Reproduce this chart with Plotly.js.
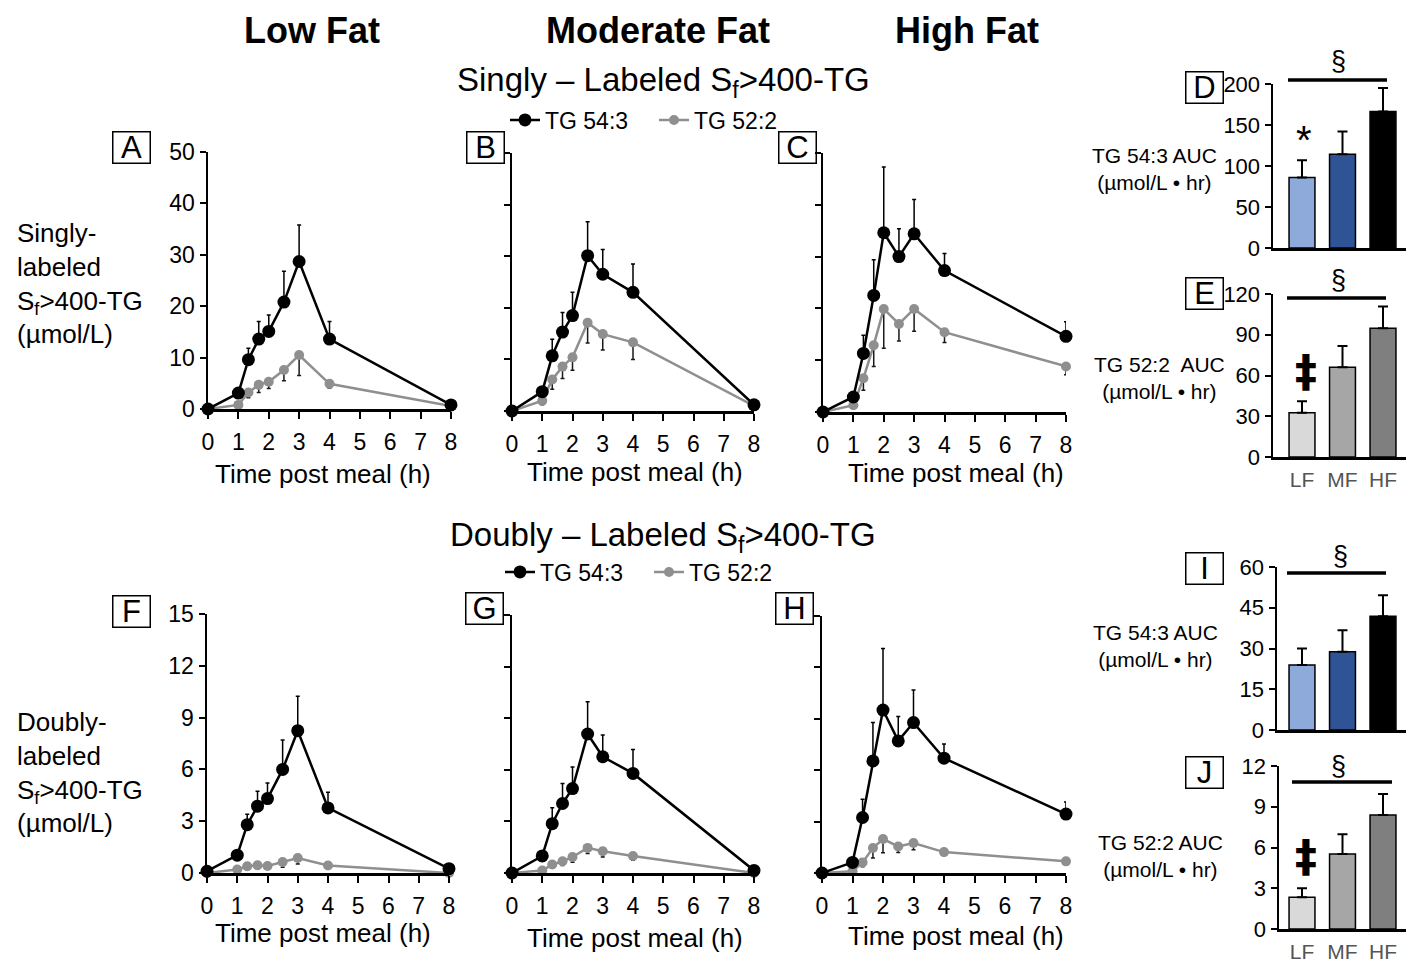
<!DOCTYPE html>
<html><head><meta charset="utf-8">
<script src="https://cdn.plot.ly/plotly-3.0.1.min.js"></script>
<style>html,body{margin:0;padding:0;background:#fff}#chart{width:1406px;height:963px}</style>
</head><body><div id="chart"></div>
<script>
const W = 1406, H = 963;

// ---------- DATA ----------
const timeH = [0, 1, 1.33, 1.67, 2, 2.5, 3, 4, 8];
const timeTicks = [0, 1, 2, 3, 4, 5, 6, 7, 8];
const seriesNames = ['TG 54:3', 'TG 52:2'];

// Singly-labeled Sf>400-TG (µmol/L)
const singlyLF_543 = [0, 3.1, 9.6, 13.6, 15.1, 20.8, 28.7, 13.6, 0.8];
const singlyLF_543_sem = [0, 0, 2.2, 3.4, 3.2, 6.0, 7.1, 3.4, 0];
const singlyLF_522 = [0, 0.8, 3.2, 4.7, 5.3, 7.6, 10.5, 4.9, 0.6];
const singlyLF_522_sem = [0, 0.6, 1.0, 1.5, 1.3, 2.1, 4.0, 0.8, 0];

const singlyMF_543 = [0, 3.75, 10.7, 15.3, 18.5, 30.1, 26.5, 23.0, 1.2];
const singlyMF_543_sem = [0, 0, 3.2, 3.8, 4.5, 6.6, 4.8, 5.5, 0];
const singlyMF_522 = [0, 2.0, 6.1, 8.6, 10.4, 17.1, 14.9, 13.3, 1.0];
const singlyMF_522_sem = [0, 0.8, 1.9, 2.3, 2.5, 3.9, 3.1, 3.3, 0];

const singlyHF_543 = [0, 2.9, 11.3, 22.5, 34.6, 30.0, 34.4, 27.3, 14.6];
const singlyHF_543_sem = [0, 0, 3.5, 6.9, 12.7, 5.4, 6.6, 3.3, 2.8];
const singlyHF_522 = [0, 1.3, 6.5, 12.9, 19.9, 17.0, 19.9, 15.4, 8.8];
const singlyHF_522_sem = [0, 0.5, 2.3, 4.1, 7.6, 3.3, 4.3, 2.0, 1.6];

// Doubly-labeled Sf>400-TG (µmol/L)
const doublyLF_543 = [0.1, 1.03, 2.8, 3.87, 4.31, 6.0, 8.24, 3.77, 0.25];
const doublyLF_543_sem = [0, 0, 0.6, 0.87, 0.9, 1.7, 2.0, 0.9, 0];
const doublyLF_522 = [0, 0.2, 0.39, 0.45, 0.41, 0.64, 0.87, 0.43, 0.0];
const doublyLF_522_sem = [0, 0.1, 0.2, 0.2, 0.2, 0.3, 0.35, 0.2, 0];

const doublyMF_543 = [0, 0.99, 2.87, 4.04, 4.91, 8.08, 6.76, 5.79, 0.15];
const doublyMF_543_sem = [0, 0, 0.93, 1.16, 1.26, 1.88, 1.26, 1.39, 0];
const doublyMF_522 = [0, 0.15, 0.49, 0.68, 0.93, 1.46, 1.26, 0.99, 0.0];
const doublyMF_522_sem = [0, 0.1, 0.2, 0.25, 0.3, 0.33, 0.33, 0.25, 0];

const doublyHF_543 = [0, 0.62, 3.24, 6.54, 9.51, 7.71, 8.78, 6.70, 3.44];
const doublyHF_543_sem = [0, 0, 1.06, 2.24, 3.6, 1.42, 1.9, 0.83, 0.7];
const doublyHF_522 = [0, 0.1, 0.62, 1.46, 1.98, 1.55, 1.75, 1.22, 0.68];
const doublyHF_522_sem = [0, 0.1, 0.25, 0.58, 0.8, 0.35, 0.4, 0.2, 0.1];

// AUC bars (µmol/L • hr)
const dietGroups = ['LF', 'MF', 'HF'];
const aucSingly_543 = [86.1, 114.3, 166.5];
const aucSingly_543_sem = [21, 27.8, 28.6];
const aucSingly_522 = [32.5, 66.0, 94.8];
const aucSingly_522_sem = [8.6, 15.8, 16];
const aucDoubly_543 = [23.9, 28.8, 41.9];
const aucDoubly_543_sem = [6.1, 7.9, 7.7];
const aucDoubly_522 = [2.33, 5.52, 8.39];
const aucDoubly_522_sem = [0.67, 1.45, 1.55];

// ---------- STYLE / LAYOUT HELPERS ----------
const FONT = 'Liberation Sans, Arial, sans-serif';
const px = p => p / W;
const py = p => 1 - p / H;
const zeros = n => new Array(n).fill(0);

const traces = [];
const layout = {
  width: W, height: H,
  margin: {l: 0, r: 0, t: 0, b: 0},
  paper_bgcolor: '#fff', plot_bgcolor: 'rgba(0,0,0,0)',
  font: {family: FONT, color: '#000', size: 22},
  showlegend: true,
  annotations: [], shapes: []
};

function lineAxes(i, xd, yd, yrange, dtick, showY) {
  const xs = i === 1 ? 'xaxis' : 'xaxis' + i;
  const ys = i === 1 ? 'yaxis' : 'yaxis' + i;
  layout[xs] = {
    domain: [px(xd[0]), px(xd[1])], range: [0, 8], tickvals: timeTicks,
    ticks: 'outside', ticklen: 7, tickwidth: 2, tickcolor: '#000',
    showline: true, linewidth: 2.5, linecolor: '#000',
    showgrid: false, zeroline: false, tickfont: {size: 23},
    ticklabelstandoff: 4,
    anchor: i === 1 ? 'y' : 'y' + i, fixedrange: true
  };
  layout[ys] = {
    domain: [py(yd[1]), py(yd[0])], range: yrange, tick0: 0, dtick: dtick,
    ticks: 'outside', ticklen: 6, tickwidth: 2, tickcolor: '#000',
    showline: true, linewidth: 2.5, linecolor: '#000',
    showgrid: false, zeroline: false, showticklabels: showY,
    tickfont: {size: 23},
    anchor: i === 1 ? 'x' : 'x' + i, fixedrange: true
  };
}

function linePanel(i, blackY, blackErr, grayY, grayErr, legendName) {
  const xa = i === 1 ? 'x' : 'x' + i;
  const ya = i === 1 ? 'y' : 'y' + i;
  const show = !!legendName;
  traces.push({
    type: 'scatter', mode: 'lines+markers', x: timeH, y: grayY,
    name: seriesNames[1], xaxis: xa, yaxis: ya, cliponaxis: false,
    line: {color: '#8f8f8f', width: 2.5},
    marker: {color: '#8f8f8f', size: 10},
    error_y: {type: 'data', symmetric: false, array: zeros(grayY.length), arrayminus: grayErr,
              color: '#1a1a1a', thickness: 1.5, width: 2},
    showlegend: show, legend: legendName || 'legend', legendrank: 2
  });
  traces.push({
    type: 'scatter', mode: 'lines+markers', x: timeH, y: blackY,
    name: seriesNames[0], xaxis: xa, yaxis: ya, cliponaxis: false,
    line: {color: '#000', width: 2.5},
    marker: {color: '#000', size: 13},
    error_y: {type: 'data', symmetric: false, array: blackErr, arrayminus: zeros(blackY.length),
              color: '#000', thickness: 1.5, width: 2},
    showlegend: show, legend: legendName || 'legend', legendrank: 1
  });
}

function barPanel(i, xd, yd, xrange, yrange, dtick, vals, errs, colors, showX) {
  const xs = 'xaxis' + i, ys = 'yaxis' + i;
  layout[xs] = {
    domain: [px(xd[0]), px(xd[1])], type: 'category', range: xrange,
    showline: true, linewidth: 2.5, linecolor: '#000', ticks: '',
    showgrid: false, zeroline: false, showticklabels: showX,
    tickfont: {size: 21, color: '#555'}, ticklabelstandoff: 2,
    anchor: 'y' + i, fixedrange: true
  };
  layout[ys] = {
    domain: [py(yd[1]), py(yd[0])], range: yrange, tick0: 0, dtick: dtick,
    ticks: 'outside', ticklen: 6, tickwidth: 2, tickcolor: '#000',
    showline: true, linewidth: 2.5, linecolor: '#000',
    showgrid: false, zeroline: false, tickfont: {size: 22},
    anchor: 'x' + i, fixedrange: true
  };
  traces.push({
    type: 'bar', x: dietGroups, y: vals, xaxis: 'x' + i, yaxis: 'y' + i,
    width: 0.64, showlegend: false, cliponaxis: false,
    marker: {color: colors, line: {color: '#000', width: 1.5}},
    error_y: {type: 'data', symmetric: false, array: errs, arrayminus: zeros(vals.length),
              color: '#000', thickness: 2, width: 5}
  });
}

// ---------- PANELS ----------
lineAxes(1, [208, 451], [152, 409], [0, 50], 10, true);
lineAxes(2, [512, 754], [153, 411], [0, 50], 10, false);
lineAxes(3, [823, 1066], [153, 412], [0, 50], 10, false);
lineAxes(4, [207, 449], [614, 873], [0, 15], 3, true);
lineAxes(5, [512, 754], [615, 873], [0, 15], 3, false);
lineAxes(6, [822, 1066], [616, 873], [0, 15], 3, false);

linePanel(1, singlyLF_543, singlyLF_543_sem, singlyLF_522, singlyLF_522_sem, 'legend');
linePanel(2, singlyMF_543, singlyMF_543_sem, singlyMF_522, singlyMF_522_sem, null);
linePanel(3, singlyHF_543, singlyHF_543_sem, singlyHF_522, singlyHF_522_sem, null);
linePanel(4, doublyLF_543, doublyLF_543_sem, doublyLF_522, doublyLF_522_sem, 'legend2');
linePanel(5, doublyMF_543, doublyMF_543_sem, doublyMF_522, doublyMF_522_sem, null);
linePanel(6, doublyHF_543, doublyHF_543_sem, doublyHF_522, doublyHF_522_sem, null);

const blueSet = ['#8eaadb', '#2f5496', '#000000'];
const graySet = ['#d9d9d9', '#a6a6a6', '#7f7f7f'];
barPanel(7, [1273, 1406], [84, 248], [-0.716, 2.568], [0, 200], 50, aucSingly_543, aucSingly_543_sem, blueSet, false);
barPanel(8, [1273, 1406], [294, 457], [-0.716, 2.568], [0, 120], 30, aucSingly_522, aucSingly_522_sem, graySet, true);
barPanel(9, [1277, 1406], [567, 730], [-0.617, 2.568], [0, 60], 15, aucDoubly_543, aucDoubly_543_sem, blueSet, false);
barPanel(10, [1279, 1406], [766, 929], [-0.568, 2.568], [0, 12], 3, aucDoubly_522, aucDoubly_522_sem, graySet, true);

// ---------- LEGENDS ----------
const legendBase = {
  orientation: 'h', xanchor: 'left', yanchor: 'middle',
  font: {size: 23, family: FONT}, bgcolor: 'rgba(0,0,0,0)',
  itemwidth: 30, entrywidth: 104, entrywidthmode: 'pixels',
  traceorder: 'normal', itemclick: false, itemdoubleclick: false
};
layout.legend = Object.assign({}, legendBase, {x: px(505), y: py(120)});
layout.legend2 = Object.assign({}, legendBase, {x: px(500), y: py(572)});

// ---------- TEXT ----------
const A = layout.annotations;
function txt(x, y, text, size, opts) {
  A.push(Object.assign({xref: 'paper', yref: 'paper', x: px(x), y: py(y), text: text,
    showarrow: false, xanchor: 'center', yanchor: 'middle',
    font: {size: size, family: FONT, color: '#000'}}, opts || {}));
}
// column headers
txt(312, 30, '<b>Low Fat</b>', 36);
txt(658, 30, '<b>Moderate Fat</b>', 36);
txt(967, 30, '<b>High Fat</b>', 36);
// section titles
txt(663, 82, 'Singly – Labeled S<sub>f</sub>&gt;400-TG', 33);
txt(663, 537, 'Doubly – Labeled S<sub>f</sub>&gt;400-TG', 33);
// row axis titles
txt(15, 284, 'Singly-<br>labeled<br>S<sub>f</sub>&gt;400-TG<br>(µmol/L)', 26, {xanchor: 'left', align: 'left'});
txt(15, 772, 'Doubly-<br>labeled<br>S<sub>f</sub>&gt;400-TG<br>(µmol/L)', 26, {xanchor: 'left', align: 'left'});
// x axis titles
txt(323, 474, 'Time post meal (h)', 26);
txt(635, 472, 'Time post meal (h)', 26);
txt(956, 473, 'Time post meal (h)', 26);
txt(323, 933, 'Time post meal (h)', 26);
txt(635, 938, 'Time post meal (h)', 26);
txt(956, 936, 'Time post meal (h)', 26);
// AUC y titles
txt(1154, 169, 'TG 54:3 AUC<br>(µmol/L • hr)', 21);
txt(1159, 378, 'TG 52:2  AUC<br>(µmol/L • hr)', 21);
txt(1155, 646, 'TG 54:3 AUC<br>(µmol/L • hr)', 21);
txt(1160, 856, 'TG 52:2 AUC<br>(µmol/L • hr)', 21);
// panel letters
function letter(x, y, t) {
  txt(x, y, t, 31, {width: 36, height: 30, bordercolor: '#000', borderwidth: 1.5, borderpad: 0});
}
letter(131, 148, 'A'); letter(485, 147, 'B'); letter(797, 147, 'C');
letter(1204, 87, 'D'); letter(1204, 293, 'E');
letter(131, 611, 'F'); letter(484, 608, 'G'); letter(794, 608, 'H');
letter(1204, 568, 'I'); letter(1204, 772, 'J');
// significance markers
txt(1338, 61, '§', 27); txt(1338, 280, '§', 27);
txt(1340, 556, '§', 27); txt(1338, 766, '§', 27);
txt(1304, 140, '*', 40);
const dagFont = {size: 44, family: 'DejaVu Sans, Liberation Sans, sans-serif', color: '#000'};
txt(1306, 371, '<b>‡</b>', 44, {font: dagFont});
txt(1306, 856, '<b>‡</b>', 44, {font: dagFont});
// significance lines
function sig(x0, x1, y) {
  layout.shapes.push({type: 'line', xref: 'paper', yref: 'paper', x0: px(x0), x1: px(x1), y0: py(y), y1: py(y),
    line: {color: '#000', width: 3.5}});
}
sig(1288, 1387, 80); sig(1287, 1386, 298); sig(1287, 1386, 573); sig(1292, 1392, 782);

Plotly.newPlot('chart', traces, layout, {displayModeBar: false, staticPlot: true});
</script>
</body></html>
